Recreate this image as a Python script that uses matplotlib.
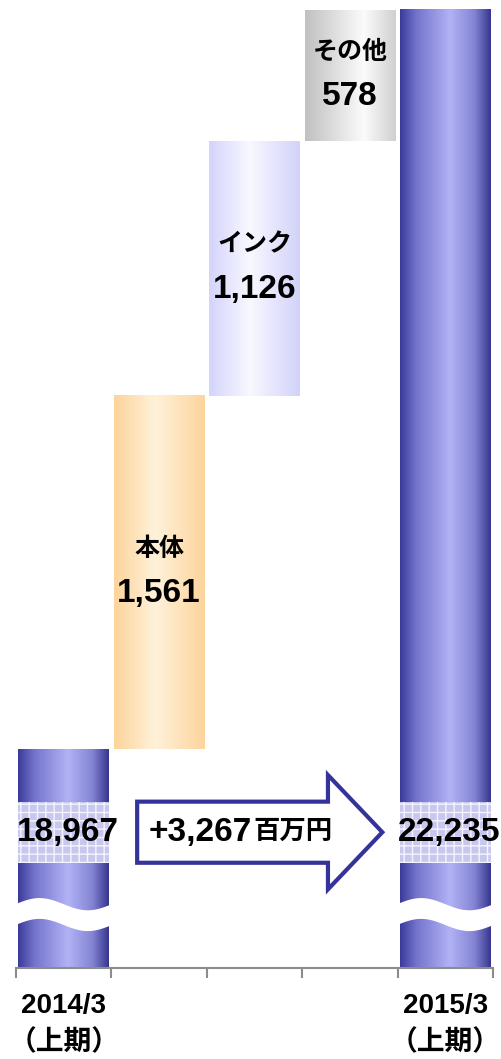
import numpy as np
import matplotlib
matplotlib.use("Agg")
import matplotlib.pyplot as plt
from matplotlib.colors import LinearSegmentedColormap
from matplotlib.patches import Rectangle, Polygon, FancyArrow

plt.rcParams['font.family'] = ['Liberation Sans', 'Noto Sans CJK JP']
plt.rcParams['font.weight'] = 'bold'
plt.rcParams['hatch.linewidth'] = 1.0

# data (百万円)
startLabel = "2014/3\n（上期）"
endLabel = "2015/3\n（上期）"
startValue = 18967
endValue = 22235
stepNames = ["本体", "インク", "その他"]
stepValues = [1561, 1126, 578]
diffText = "+3,267"
diffUnit = "百万円"

axisFloor = 18000
axisCeil = 22277
barWidth = 0.95

mainStops = [(0.0, "#3a3a9c"), (0.18, "#7474cc"), (0.55, "#b2b2f6"),
             (0.82, "#8484d4"), (1.0, "#36368f")]
stepStops = [
    [(0.0, "#fdd49a"), (0.45, "#fff2da"), (1.0, "#fdd49c")],
    [(0.0, "#d4d4fc"), (0.45, "#f8f8ff"), (1.0, "#d2d2fa")],
    [(0.0, "#c0c0c0"), (0.65, "#fbfbfb"), (1.0, "#d0d0d0")],
]


def gradientBar(ax, x, bottom, top, stops, z=2):
    cmap = LinearSegmentedColormap.from_list("g", stops)
    grad = np.linspace(0, 1, 256).reshape(1, -1)
    ax.imshow(grad, cmap=cmap, aspect="auto", interpolation="bicubic",
              extent=[x - barWidth / 2, x + barWidth / 2, bottom, top],
              zorder=z)


def waveBreak(ax, x, center=18236, amp=27, half=46):
    t = np.linspace(0, 1, 80)
    xs = x - barWidth / 2 - 0.03 + t * (barWidth + 0.06)
    wave = amp * np.cos(2 * np.pi * (t - 0.25))
    top = center + half + wave
    bot = center - half + wave
    pts = np.column_stack([np.r_[xs, xs[::-1]], np.r_[top, bot[::-1]]])
    ax.add_patch(Polygon(pts, closed=True, facecolor="white",
                         edgecolor="none", zorder=5))


def valueBand(ax, x, text, center=18600, half=135):
    ax.add_patch(Rectangle((x - barWidth / 2, center - half), barWidth, 2 * half,
                           facecolor="#c8c8ee", edgecolor="#f4f4ff",
                           hatch="++", lw=0, zorder=4))
    ax.text(x + 0.04, center, text, ha="center", va="center",
            fontsize=24, zorder=6)


def main():
    fig = plt.figure(figsize=(5.01, 10.59), dpi=100)
    ax = fig.add_axes([16 / 501, 91 / 1059, 477 / 501, 968 / 1059])

    nSteps = len(stepValues)
    endX = nSteps + 1

    # start and end totals
    gradientBar(ax, 0, axisFloor, startValue, mainStops)
    gradientBar(ax, endX, axisFloor, endValue, mainStops)

    # floating steps
    level = startValue
    for i, (name, val) in enumerate(zip(stepNames, stepValues)):
        x = i + 1
        gradientBar(ax, x, level, level + val, stepStops[i])
        mid = level + val / 2
        ax.annotate(name, (x, mid), xytext=(0, 17), textcoords="offset points",
                    ha="center", va="center", fontsize=18, zorder=6)
        ax.annotate(f"{val:,}", (x, mid), xytext=(0, -15),
                    textcoords="offset points", ha="center", va="center",
                    fontsize=24, zorder=6)
        level += val

    for x in (0, endX):
        waveBreak(ax, x)
    valueBand(ax, 0, f"{startValue:,}")
    valueBand(ax, endX, f"{endValue:,}")

    # arrow between the totals
    arrow = FancyArrow(0.77, 18600, 2.57, 0, width=270, head_width=505,
                       head_length=0.57, length_includes_head=True,
                       facecolor="white", edgecolor="#333399", lw=3,
                       joinstyle="miter", zorder=3)
    ax.add_patch(arrow)
    t1 = ax.text(0.89, 18600, diffText, ha="left", va="center",
                 fontsize=24, zorder=6)
    ax.annotate(diffUnit, xy=(1, 0.5), xycoords=t1, xytext=(1, 0),
                textcoords="offset points", ha="left", va="center",
                fontsize=19, zorder=6)

    ax.set_xlim(-0.5, endX + 0.5)
    ax.set_ylim(axisFloor, axisCeil)
    for s in ("left", "right", "top"):
        ax.spines[s].set_visible(False)
    ax.spines["bottom"].set_color("#8c8c8c")
    ax.spines["bottom"].set_linewidth(1.5)
    ax.set_yticks([])
    ax.set_xticks(np.arange(-0.5, endX + 1, 1.0))
    ax.set_xticklabels([])
    ax.tick_params(axis="x", which="major", length=7, width=1.5,
                   color="#8c8c8c")
    ax.set_xticks([0, endX], [startLabel, endLabel], minor=True)
    ax.tick_params(axis="x", which="minor", length=0, pad=18,
                   labelsize=20)
    for lbl in ax.get_xticklabels(minor=True):
        lbl.set_linespacing(1.5)

    fig.savefig("out.png", dpi=100)
    plt.close(fig)


if __name__ == "__main__":
    main()
